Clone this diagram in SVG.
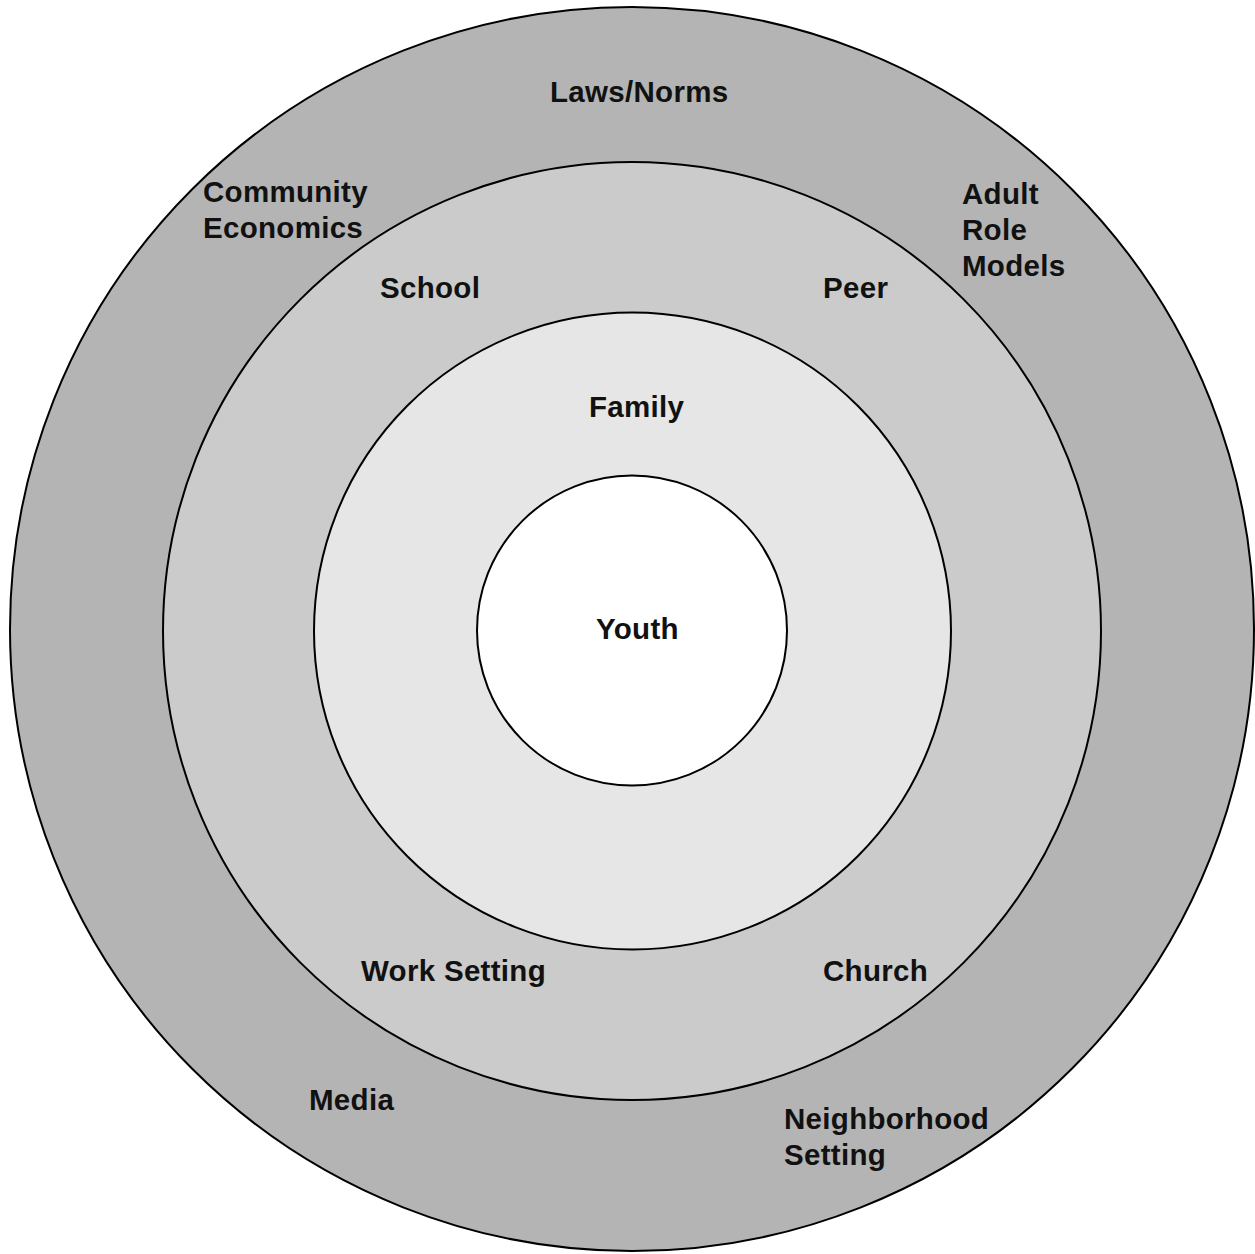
<svg xmlns="http://www.w3.org/2000/svg" width="1255" height="1254" viewBox="0 0 1255 1254">
<style>
.ring{stroke:#000;stroke-width:2}
.lbl{font-family:"Liberation Sans",Arial,sans-serif;font-weight:bold;font-size:29.5px;letter-spacing:0.3px;fill:#111}
</style>
<rect width="1255" height="1254" fill="#fff"/>
<g id="ring-outer"><circle class="ring" cx="632" cy="629" r="622" fill="#b4b4b4"/></g>
<g id="ring-2"><circle class="ring" cx="632" cy="631" r="469" fill="#cbcbcb"/></g>
<g id="ring-3"><circle class="ring" cx="632.5" cy="631" r="318.5" fill="#e6e6e6"/></g>
<g id="ring-inner"><circle class="ring" cx="632" cy="630.5" r="155" fill="#fff"/></g>
<g id="connectors"></g>
<g id="labels">
<text class="lbl" x="550" y="102">Laws/Norms</text>
<text class="lbl" x="203" y="202">Community</text>
<text class="lbl" x="203" y="238">Economics</text>
<text class="lbl" x="962" y="204">Adult</text>
<text class="lbl" x="962" y="240">Role</text>
<text class="lbl" x="962" y="276">Models</text>
<text class="lbl" x="380" y="298">School</text>
<text class="lbl" x="823" y="298">Peer</text>
<text class="lbl" x="589" y="417">Family</text>
<text class="lbl" x="596" y="639">Youth</text>
<text class="lbl" x="361" y="981">Work Setting</text>
<text class="lbl" x="823" y="981">Church</text>
<text class="lbl" x="309" y="1110">Media</text>
<text class="lbl" x="784" y="1129">Neighborhood</text>
<text class="lbl" x="784" y="1165">Setting</text>
</g>
</svg>
